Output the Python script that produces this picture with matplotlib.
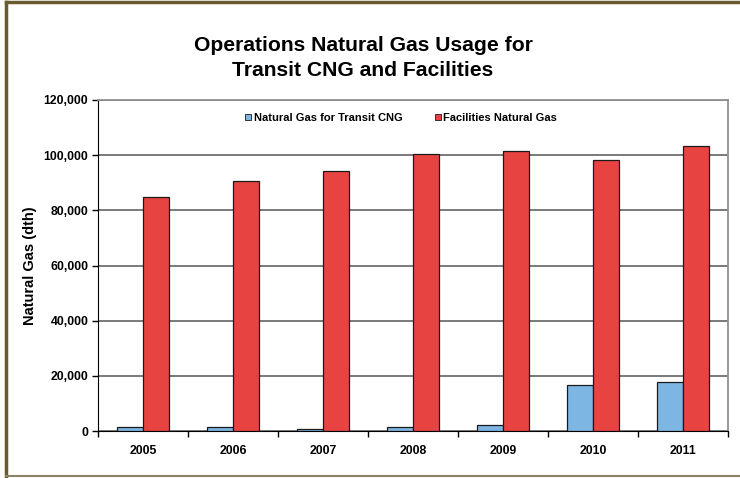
import numpy as np
import matplotlib.pyplot as plt
from matplotlib.lines import Line2D

years = ["2005", "2006", "2007", "2008", "2009", "2010", "2011"]
transit_cng = [1500, 1500, 600, 1400, 2300, 16700, 17900]
facilities = [84700, 90600, 94300, 100400, 101500, 98300, 103300]

plt.rcParams['font.family'] = ['Liberation Sans', 'DejaVu Sans']
plt.rcParams['font.weight'] = 'bold'

fig = plt.figure(figsize=(7.4, 4.78), dpi=100)
ax = fig.add_axes([98/740, 1 - 431/478, 630/740, 331/478])

x = np.arange(len(years))
w = 0.2875
ax.bar(x - w/2, transit_cng, w, color='#7db5e3', edgecolor='#1a1a1a', linewidth=0.9,
       label='Natural Gas for Transit CNG', zorder=3)
ax.bar(x + w/2, facilities, w, color='#e74341', edgecolor='#1a1a1a', linewidth=0.9,
       label='Facilities Natural Gas', zorder=3)

ax.set_xlim(-0.5, len(years) - 0.5)
ax.set_ylim(0, 120000)
ax.set_yticks(np.arange(0, 120001, 20000))
ax.set_yticklabels([f"{v:,}" for v in range(0, 120001, 20000)], fontsize=8.8, fontweight='bold')
ax.yaxis.grid(True, color='#707070', linewidth=1.3, zorder=0)

ax.set_xticks(x)
ax.set_xticklabels(years, fontsize=8.8, fontweight='bold')
ax.set_xticks(np.arange(-0.5, len(years)), minor=True)
ax.tick_params(axis='x', which='major', length=0, pad=10)
ax.tick_params(axis='x', which='minor', length=4, width=1, direction='out')
ax.tick_params(axis='y', length=4, width=1, direction='out', pad=3)

for side in ['top', 'right']:
    ax.spines[side].set_color('#909090')
    ax.spines[side].set_linewidth(1.3)
ax.spines['left'].set_color('black')
ax.spines['bottom'].set_color('black')

ax.set_ylabel('Natural Gas (dth)', fontsize=10.5, fontweight='bold', labelpad=5)

handles = [Line2D([], [], marker='s', linestyle='none', markersize=5,
                  markerfacecolor=c, markeredgecolor='#1a1a1a', markeredgewidth=0.6)
           for c in ['#7db5e3', '#e74341']]
ax.legend(handles, ['Natural Gas for Transit CNG', 'Facilities Natural Gas'],
          loc='upper center', bbox_to_anchor=(0.48, 0.99), ncol=2, frameon=False,
          prop={'size': 8, 'weight': 'bold'}, handletextpad=0.1, columnspacing=2.8,
          handlelength=0.8)

fig.text(363/740, 1 - 58/478, 'Operations Natural Gas Usage for\nTransit CNG and Facilities',
         ha='center', va='center', fontsize=15.2, fontweight='bold', linespacing=1.45)

# page frame
fig.add_artist(Line2D([6/740, 6/740], [1 - 476/478, 1 - 2/478], color='#6b5a2e', linewidth=2.5))
fig.add_artist(Line2D([6/740, 1], [1 - 2/478, 1 - 2/478], color='#6b5a2e', linewidth=2.5))
fig.add_artist(Line2D([6/740, 1], [1 - 476/478, 1 - 476/478], color='#8a8366', linewidth=1.5))

fig.savefig('out.png', dpi=100)
